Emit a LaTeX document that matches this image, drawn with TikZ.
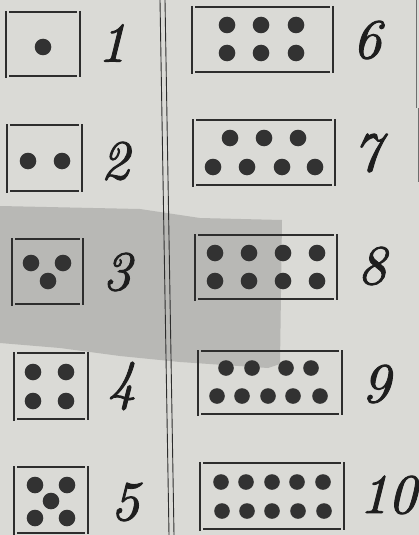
\documentclass[tikz,border=0pt]{standalone}
\usepackage{fontspec}
\newfontfamily\numfont[Extension=.otf,FakeBold=1.6]{lmroman10-italic}
\begin{document}
\begin{tikzpicture}[x=1pt,y=-1pt,
  ink/.style={draw=inkc,line width=1.1pt},
  numlabel/.style={inner sep=0pt,text=numcol,font=\fontsize{56}{56}\numfont}]
\definecolor{paper}{RGB}{218,218,214}
\definecolor{patch}{RGB}{184,184,181}
\definecolor{inkc}{RGB}{45,45,45}
\definecolor{dotcol}{RGB}{50,50,50}
\definecolor{numcol}{RGB}{30,30,30}
\definecolor{edge}{RGB}{110,110,110}
\useasboundingbox (0,0) rectangle (419,535);
\fill[paper] (0,0) rectangle (419,535);
% darker overlay patch
\fill[patch] (0,206) -- (140,209) -- (200,218) -- (282,220) -- (280,364) -- (268,368)
  -- (180,362) -- (120,356) -- (60,348) -- (0,343) -- cycle;
% page edge at right
\draw[edge,line width=0.8pt] (416,0) -- (416,108) (418,108) -- (418,182);
% double rule
\draw[inkc,line width=0.9pt] (160,0) -- (169,535) (165,0) -- (174,535);
% box macro: verticals extend, horizontals inset
\newcommand\dbox[4]{%
  \draw[ink] (#1,#2-1) -- (#1,#4+2) (#3,#2-1) -- (#3,#4+1);
  \draw[ink] (#1+3,#2) -- (#3-3,#2) (#1+3,#4) -- (#3-3,#4);}
\newcommand\pip[2]{\fill[dotcol] (#1,#2) circle[radius=8.3];}
\newcommand\spip[2]{\fill[dotcol] (#1,#2) circle[radius=7.8];}
% 1
\dbox{6}{12}{80}{76}
\pip{43}{47}
\node[numlabel] (n1) at (112,43) {1};
% 2
\dbox{7}{125}{82}{191}
\pip{28}{161}\pip{62}{161}
\node[numlabel] (n2) at (115,161) {2};
% 3
\dbox{12}{239}{83}{304}
\pip{31}{263}\pip{63}{263}\pip{48}{281}
\node[numlabel] (n3) at (117,272) {3};
% 4
\dbox{14}{353}{88}{419}
\pip{33}{372}\pip{66}{372}\pip{33}{401}\pip{66}{401}
\node[numlabel] (n4) at (122,386) {4};
% 5
\dbox{14}{467}{88}{533}
\pip{35}{485}\pip{67}{485}\pip{51}{501}\pip{35}{518}\pip{67}{518}
\node[numlabel] (n5) at (125,502) {5};
% 6
\dbox{192}{7}{333}{72}
\pip{227}{25}\pip{261}{25}\pip{296}{25}
\pip{227}{53}\pip{261}{53}\pip{296}{53}
\node[numlabel] (n6) at (367,40) {6};
% 7
\dbox{193}{120}{335}{185}
\pip{230}{138}\pip{264}{138}\pip{298}{138}
\pip{213}{167}\pip{247}{167}\pip{282}{167}\pip{315}{167}
\node[numlabel] (n7) at (367,153) {7};
% 8
\dbox{195}{235}{337}{299}
\pip{215}{253}\pip{249}{253}\pip{283}{253}\pip{317}{253}
\pip{215}{281}\pip{249}{281}\pip{283}{281}\pip{317}{281}
\node[numlabel] (n8) at (372,266) {8};
% 9
\dbox{198}{351}{342}{414}
\spip{226}{368}\spip{252}{368}\spip{286}{368}\spip{311}{368}
\spip{217}{396}\spip{242}{396}\spip{268}{396}\spip{293}{396}\spip{320}{396}
\node[numlabel] (n9) at (376,384) {9};
% 10
\dbox{200}{463}{344}{529}
\spip{221}{482}\spip{246}{482}\spip{272}{482}\spip{297}{482}\spip{323}{482}
\spip{222}{511}\spip{247}{511}\spip{272}{511}\spip{298}{511}\spip{324}{511}
\node[numlabel] (n10) at (388,495) {10};
\end{tikzpicture}
\end{document}
